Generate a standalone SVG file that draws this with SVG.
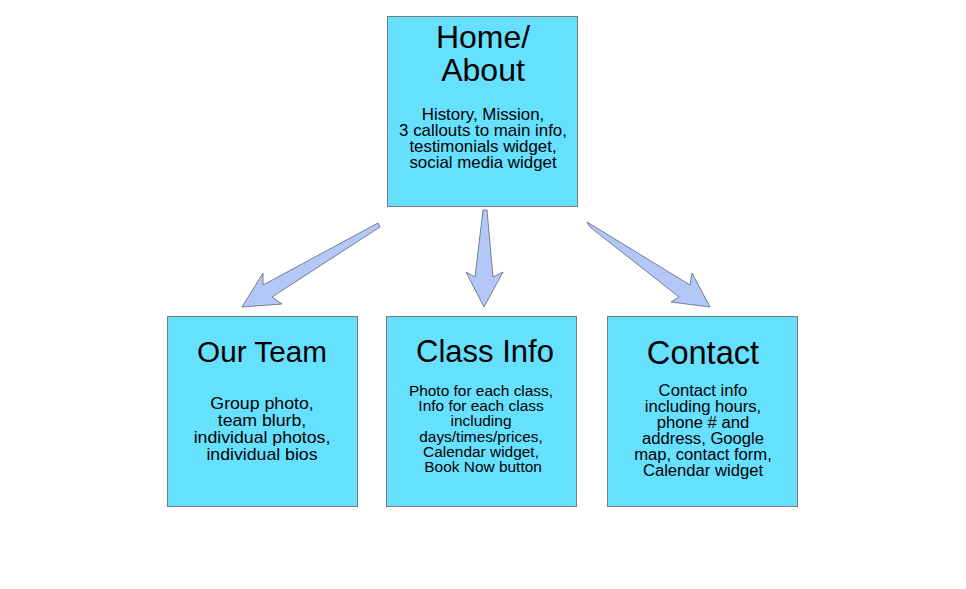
<svg xmlns="http://www.w3.org/2000/svg" width="966" height="589" viewBox="0 0 966 589">
  <style>
    .box { fill: #66e0ff; stroke: #7a7a7a; stroke-width: 1; }
    .title { font-family: "Liberation Sans", Arial, sans-serif; fill: #000; text-anchor: middle; }
    .body { font-family: "Liberation Sans", Arial, sans-serif; fill: #000; text-anchor: middle; }
    .arrow { fill: #b4c8f8; stroke: #5a6478; stroke-width: 0.8; stroke-linejoin: miter; }
  </style>
  <rect width="966" height="589" fill="#fff"/>

  <g id="connectors">
    <polygon class="arrow" points="378,223 380,227 272,297 282,304 242,307 263,273 263,285"/>
    <polygon class="arrow" points="483,210 487,210 493,277 503,272 484,307 466,272 475,277"/>
    <polygon class="arrow" points="587,222 590,227 679,297 671,302 710,307 692,273 690,285"/>
  </g>

  <g id="home">
    <rect class="box" x="387.5" y="16.5" width="190" height="190"/>
    <text class="title" x="483" y="48" font-size="32">Home/</text>
    <text class="title" x="483" y="81" font-size="32">About</text>
    <g class="body" font-size="16" transform="translate(483,0) scale(1.055,1)">
      <text x="0" y="120">History, Mission,</text>
      <text x="0" y="136">3 callouts to main info,</text>
      <text x="0" y="152">testimonials widget,</text>
      <text x="0" y="168">social media widget</text>
    </g>
  </g>

  <g id="our-team">
    <rect class="box" x="167.5" y="316.5" width="190" height="190"/>
    <text class="title" x="262" y="362" font-size="29.7">Our Team</text>
    <g class="body" font-size="16.4" transform="translate(262,0) scale(1.08,1)">
      <text x="0" y="409">Group photo,</text>
      <text x="0" y="426">team blurb,</text>
      <text x="0" y="443">individual photos,</text>
      <text x="0" y="460">individual bios</text>
    </g>
  </g>

  <g id="class-info">
    <rect class="box" x="386.5" y="316.5" width="190" height="190"/>
    <text class="title" x="485" y="362" font-size="31">Class Info</text>
    <g class="body" font-size="15" transform="translate(481,0) scale(1.03,1)">
      <text x="0" y="396">Photo for each class,</text>
      <text x="0" y="411.2">Info for each class</text>
      <text x="0" y="426.4">including</text>
      <text x="0" y="441.6">days/times/prices,</text>
      <text x="0" y="456.8">Calendar widget,</text>
      <text x="2" y="472">Book Now button</text>
    </g>
  </g>

  <g id="contact">
    <rect class="box" x="607.5" y="316.5" width="190" height="190"/>
    <text class="title" x="703" y="364" font-size="32.6">Contact</text>
    <g class="body" font-size="16" transform="translate(703,0) scale(1.04,1)">
      <text x="0" y="396">Contact info</text>
      <text x="0" y="412">including hours,</text>
      <text x="0" y="428">phone # and</text>
      <text x="0" y="444">address, Google</text>
      <text x="0" y="460">map, contact form,</text>
      <text x="0" y="476">Calendar widget</text>
    </g>
  </g>
</svg>
